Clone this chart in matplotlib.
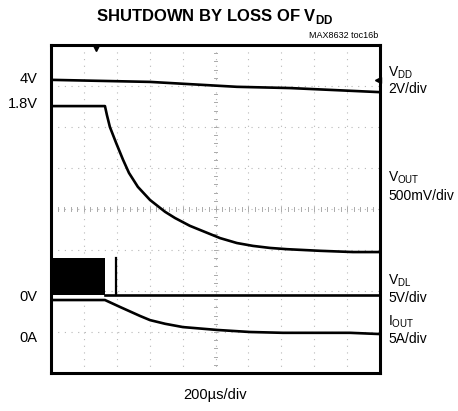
import matplotlib
matplotlib.use("Agg")
import matplotlib.pyplot as plt
import numpy as np

vdd_x = [0, 3.01, 5.65, 7.26, 10]
vdd_y = [7.15, 7.10, 6.98, 6.95, 6.85]

vout_x = [0, 1.64, 1.70, 1.79, 1.98, 2.19, 2.37, 2.64, 3.01, 3.47, 3.77,
          4.22, 4.68, 5.14, 5.65, 6.14, 6.66, 7.17, 8.18, 9.18, 10]
vout_y = [6.51, 6.51, 6.29, 6.00, 5.61, 5.20, 4.88, 4.54, 4.22, 3.93, 3.78,
          3.59, 3.44, 3.29, 3.17, 3.10, 3.05, 3.02, 2.98, 2.95, 2.95]

vdl_x = [1.64, 10]
vdl_y = [1.90, 1.90]
burst_x = [0, 1.64]
burst_lo = 1.90
burst_hi = 2.80
spike_x = 1.99

iout_x = [0, 1.64, 2.10, 2.71, 3.01, 3.47, 4.01, 5.05, 6.05, 7.05, 8.09, 9.09, 10]
iout_y = [1.78, 1.78, 1.61, 1.39, 1.29, 1.20, 1.12, 1.05, 1.00, 0.98, 0.98, 0.98, 0.95]

left_labels = ["4V", "1.8V", "0V", "0A"]
left_pos = [7.17, 6.56, 1.85, 0.85]

right_labels = [r'V$_{\mathrm{DD}}$', '2V/div', r'V$_{\mathrm{OUT}}$', '500mV/div',
                r'V$_{\mathrm{DL}}$', '5V/div', r'I$_{\mathrm{OUT}}$', '5A/div']
right_pos = [7.32, 6.93, 4.76, 4.32, 2.24, 1.83, 1.24, 0.83]

trigger_x = 1.37

plt.rcParams['font.family'] = ['Liberation Sans', 'DejaVu Sans']
plt.rcParams['mathtext.fontset'] = 'custom'
plt.rcParams['mathtext.rm'] = 'Liberation Sans'
plt.rcParams['mathtext.bf'] = 'Liberation Sans:bold'

fig = plt.figure(figsize=(4.58, 4.11), dpi=100)
ax = fig.add_axes([51 / 458, 38 / 411, 329 / 458, 328 / 411])
ax.set_xlim(0, 10)
ax.set_ylim(0, 8)

# dotted graticule
for gx in range(1, 10):
    ax.axvline(gx, color='#b8b8b8', lw=0.8, ls=(0, (1, 5)), zorder=0)
for gy in range(1, 8):
    ax.axhline(gy, color='#b8b8b8', lw=0.8, ls=(0, (1, 5)), zorder=0)
# center crosshair minor ticks
for t in np.arange(0, 10.01, 0.2):
    ax.plot([t, t], [3.95, 4.05], color='#aaaaaa', lw=0.7, zorder=0)
for t in np.arange(0, 8.01, 0.2):
    ax.plot([4.95, 5.05], [t, t], color='#aaaaaa', lw=0.7, zorder=0)

kw = dict(color='black', lw=1.9, solid_joinstyle='round')
ax.plot(vdd_x, vdd_y, **kw)
ax.plot(vout_x, vout_y, **kw)
ax.fill_between(burst_x, burst_lo, burst_hi, color='black', lw=0)
ax.plot([spike_x, spike_x], [burst_lo, burst_hi], color='black', lw=1.6)
ax.plot(vdl_x, vdl_y, **kw)
ax.plot(iout_x, iout_y, **kw)

# trigger / level markers
ax.plot([trigger_x], [7.93], marker='v', ms=4, color='black', clip_on=False)
ax.plot([9.93], [vdd_y[-1] + 0.3], marker='<', ms=4, color='black', clip_on=False)

for s in ax.spines.values():
    s.set_linewidth(2.2)
ax.set_xticks([])
ax.set_yticks([])

for lab, p in zip(left_labels, left_pos):
    ax.text(-0.4, p, lab, ha='right', va='center', fontsize=10.5)

for lab, p in zip(right_labels, right_pos):
    ax.text(10.25, p, lab, ha='left', va='center', fontsize=10)

fig.text(215 / 458, 1 - 17 / 411, r'SHUTDOWN BY LOSS OF V$_{\mathbf{DD}}$',
         ha='center', va='center', fontsize=12, fontweight='bold')
fig.text(378 / 458, 1 - 36 / 411, 'MAX8632 toc16b', ha='right', va='center',
         fontsize=6.5)
fig.text(215 / 458, 1 - 395 / 411, '200\u00b5s/div', ha='center', va='center',
         fontsize=10.5)

plt.savefig('out.png', dpi=100)
